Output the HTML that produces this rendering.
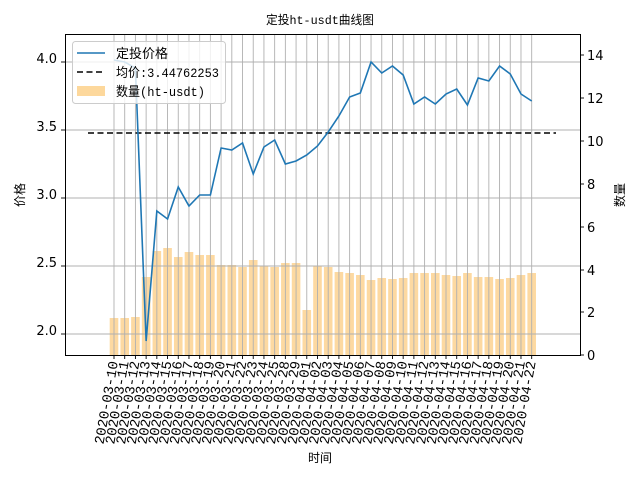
<!DOCTYPE html>
<html><head><meta charset="utf-8"><style>body{margin:0;background:#fff}svg{display:block}</style></head>
<body>
<svg id="s" width="640" height="480" xmlns="http://www.w3.org/2000/svg" font-family="DejaVu Sans, sans-serif">
<rect width="640" height="480" fill="#fff"/>
<g id="bars" fill="#fdd89c" opacity="0.95"></g>
<g id="grid" stroke="#b0b0b0" stroke-width="0.9"></g>
<line x1="88" y1="133" x2="556" y2="133" stroke="#000" stroke-width="1.6" stroke-dasharray="6,3.5"/>
<polyline id="price" fill="none" stroke="#1f77b4" stroke-width="1.6"/>
<rect x="65.5" y="34.5" width="515" height="321" fill="none" stroke="#000" stroke-width="1"/>
<g id="ticks" stroke="#000" stroke-width="0.9"></g>
<g font-size="13" fill="#000" text-anchor="end">
<text x="57" y="63">4.0</text><text x="57" y="131">3.5</text><text x="57" y="199">3.0</text><text x="57" y="267">2.5</text><text x="57" y="335">2.0</text>
</g>
<g font-size="13" fill="#000">
<text x="587" y="360">0</text><text x="587" y="317">2</text><text x="587" y="275">4</text><text x="587" y="232">6</text><text x="587" y="189">8</text><text x="587" y="146">10</text><text x="587" y="103">12</text><text x="587" y="60">14</text>
</g>
<g id="xl" font-family="Liberation Mono, WenQuanYi Zen Hei, monospace" font-size="14" fill="#000"></g>
<g font-family="Liberation Mono, WenQuanYi Zen Hei, sans-serif" fill="#000" font-size="12">
<text x="320" y="24" text-anchor="middle" textLength="108" lengthAdjust="spacingAndGlyphs">定投ht-usdt曲线图</text>
<text x="320" y="462" text-anchor="middle">时间</text>
<text transform="translate(24,195) rotate(-90)" text-anchor="middle">价格</text>
<text transform="translate(624,195) rotate(-90)" text-anchor="middle">数量</text>
</g>
<g font-family="Liberation Mono, WenQuanYi Zen Hei, monospace" font-size="13" fill="#000">
<rect x="72.5" y="41.5" width="153" height="62" rx="3" fill="#fff" fill-opacity="0.8" stroke="#ccc"/>
<line x1="77" y1="53" x2="105" y2="53" stroke="#1f77b4" stroke-width="1.6"/>
<text x="116" y="58">定投价格</text>
<line x1="77" y1="72" x2="105" y2="72" stroke="#000" stroke-width="1.6" stroke-dasharray="6,3.5"/>
<text x="116" y="77" textLength="103" lengthAdjust="spacingAndGlyphs">均价:3.44762253</text>
<rect x="77" y="86" width="28" height="10" fill="#fdd89c"/>
<text x="116" y="96" textLength="89" lengthAdjust="spacingAndGlyphs">数量(ht-usdt)</text>
</g>
</svg>
<script>
var dates=[];for(var d=10;d<=25;d++)dates.push("2020-03-"+d);dates.push("2020-03-28","2020-03-29");
for(var d=1;d<=22;d++)dates.push("2020-04-"+(d<10?"0"+d:d));
var py=[60,62,68,341,211,219,187,206,195,195,148,150,143,174,147,140,164,161,155,146,132,116,97,93,62,73,66,75,104,97,104,94,89,105,78,81,66,74,94,101];
var bt=[318,318,317,277,251,248,257,252,255,255,265,265,267,260,266,267,263,263,310,266,267,272,273,275,280,278,279,278,273,273,273,275,276,273,277,277,279,278,275,273];
var ns="http://www.w3.org/2000/svg";function el(t,a,p){var e=document.createElementNS(ns,t);for(var k in a)e.setAttribute(k,a[k]);document.getElementById(p).appendChild(e);return e;}
var pts=[];
for(var i=0;i<40;i++){var x=114+i*10.71;
el("rect",{x:x-4.3,y:bt[i],width:8.6,height:355-bt[i]},"bars");
el("line",{x1:x,y1:34,x2:x,y2:355},"grid");
el("line",{x1:x,y1:355,x2:x,y2:359},"ticks");
pts.push(x+","+py[i]);
var t=el("text",{transform:"translate("+(x+4)+",362) rotate(-80)","text-anchor":"end",textLength:"84",lengthAdjust:"spacingAndGlyphs"},"xl");t.textContent=dates[i];}
[62,130,198,266,334].forEach(function(y){el("line",{x1:65,y1:y,x2:580,y2:y},"grid");el("line",{x1:61,y1:y,x2:65,y2:y},"ticks");});
[355,312,270,227,184,141,98,55].forEach(function(y){el("line",{x1:580,y1:y,x2:584,y2:y},"ticks");});
document.getElementById("price").setAttribute("points",pts.join(" "));
</script>
</body></html>
